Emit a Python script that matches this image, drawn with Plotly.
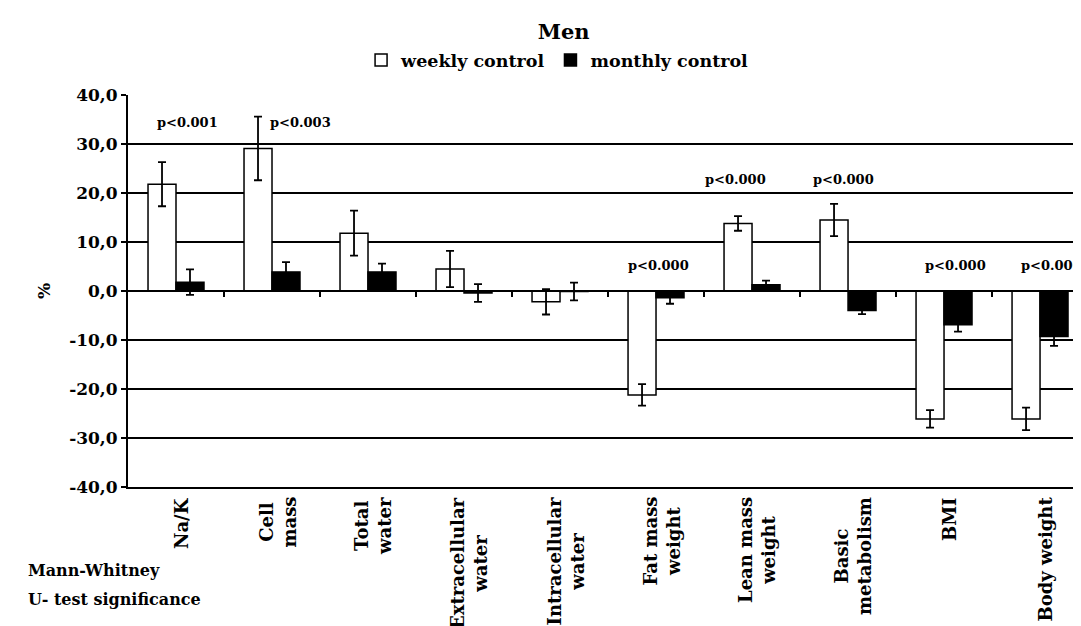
import plotly.graph_objects as go

categories = ["Na/K", "Cell<br>mass", "Total<br>water", "Extracellular<br>water",
              "Intracellular<br>water", "Fat mass<br>weight", "Lean mass<br>weight",
              "Basic<br>metabolism", "BMI", "Body weight"]
weekly = [21.8, 29.1, 11.8, 4.5, -2.2, -21.2, 13.8, 14.5, -26.1, -26.1]
weekly_err = [4.5, 6.5, 4.6, 3.7, 2.6, 2.2, 1.5, 3.3, 1.8, 2.3]
monthly = [1.8, 3.9, 3.9, -0.4, -0.1, -1.4, 1.3, -4.0, -6.9, -9.3]
monthly_err = [2.6, 2.0, 1.7, 1.8, 1.8, 1.2, 0.8, 0.7, 1.4, 1.9]

y_tickvals = [-40, -30, -20, -10, 0, 10, 20, 30, 40]
y_ticktext = ["-40,0", "-30,0", "-20,0", "-10,0", "0,0", "10,0", "20,0", "30,0", "40,0"]

p_labels = ["p<0.001", "p<0.003", "p<0.000", "p<0.000", "p<0.000", "p<0.000", "p<0.000"]
p_x = [0.12, 1.3, 5.03, 5.83, 6.95, 8.12, 9.12]
p_y = [34.3, 34.3, 5.3, 22.7, 22.7, 5.3, 5.3]

idx = list(range(len(categories)))
FONT = "DejaVu Serif"

fig = go.Figure()
fig.add_trace(go.Bar(
    x=idx, y=weekly, name="weekly control",
    marker=dict(color="white", line=dict(color="black", width=1.5)),
    error_y=dict(type="data", array=weekly_err, visible=True, color="black",
                 thickness=1.8, width=4),
))
fig.add_trace(go.Bar(
    x=idx, y=monthly, name="monthly control",
    marker=dict(color="black", line=dict(color="black", width=1.5)),
    error_y=dict(type="data", array=monthly_err, visible=True, color="black",
                 thickness=1.8, width=4),
))
# invisible trace to activate the zero-line axis with boundary ticks
fig.add_trace(go.Scatter(x=idx, y=[None] * len(idx), xaxis="x2", mode="markers",
                         showlegend=False, hoverinfo="skip"))

for t, x, y in zip(p_labels, p_x, p_y):
    fig.add_annotation(x=x, y=y, text=t, showarrow=False, xref="x", yref="y",
                       font=dict(size=13, family=FONT, color="black", weight="bold"))

# category labels (rotated, lines centred on each other)
for i, c in zip(idx, categories):
    fig.add_annotation(x=i, y=0, xref="x", yref="paper", text=c, textangle=-90,
                       showarrow=False, align="center", xanchor="center",
                       yanchor="top", xshift=5, yshift=-8,
                       font=dict(size=18, family=FONT, color="black", weight="bold"))

fig.add_annotation(x=-0.106, y=-0.214, xref="paper", yref="paper",
                   xanchor="left", yanchor="middle", align="left",
                   text="Mann-Whitney", showarrow=False,
                   font=dict(size=16, family=FONT, color="black", weight="bold"))
fig.add_annotation(x=-0.106, y=-0.286, xref="paper", yref="paper",
                   xanchor="left", yanchor="middle", align="left",
                   text="U- test significance", showarrow=False,
                   font=dict(size=16, family=FONT, color="black", weight="bold"))

xrange = [-0.5, 9.51]
fig.update_layout(
    width=1081, height=626,
    margin=dict(l=120, r=0, t=87, b=147),
    paper_bgcolor="white", plot_bgcolor="white",
    font=dict(family=FONT, color="black", size=16, weight="bold"),
    title=dict(text="Men", x=0.514, xref="container", y=1 - 24 / 626,
               yref="container", xanchor="center", yanchor="middle",
               font=dict(size=21, family=FONT, weight="bold")),
    barmode="group", bargap=0.417, bargroupgap=0,
    legend=dict(orientation="h", x=0.447, xanchor="center", y=1.089,
                yanchor="middle", font=dict(size=17.5, family=FONT, weight="bold"),
                itemwidth=30, tracegroupgap=0),
    xaxis=dict(range=xrange, tickvals=idx, showticklabels=False,
               ticks="", showline=True, linecolor="black", linewidth=2,
               showgrid=False, zeroline=False),
    xaxis2=dict(range=xrange, overlaying="x", anchor="free", position=0.5,
                side="bottom", tickvals=[i + 0.5 for i in idx], ticks="outside",
                ticklen=5, tickwidth=2, tickcolor="black", showticklabels=False,
                showline=True, linecolor="black", linewidth=2, showgrid=False,
                zeroline=False),
    yaxis=dict(range=[-40, 40], tickvals=y_tickvals, ticktext=y_ticktext,
               showgrid=True, gridcolor="black", gridwidth=1.5,
               zeroline=False, showline=True, linecolor="black", linewidth=2,
               ticks="outside", ticklen=5, tickwidth=2, tickcolor="black",
               tickfont=dict(size=17, family=FONT, weight="bold"),
               title=dict(text="%", standoff=14,
                          font=dict(size=17, family=FONT, weight="bold"))),
)

fig.write_html("out.html")
